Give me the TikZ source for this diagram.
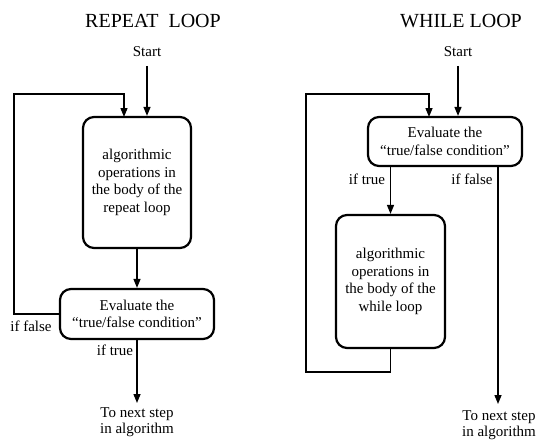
\documentclass[tikz,border=0pt]{standalone}
\usepackage{fontspec}
\setmainfont{Liberation Serif}
\usetikzlibrary{arrows.meta,calc}
\begin{document}
\begin{tikzpicture}[x=1pt,y=-1pt,
  box/.style={draw,line width=2.2pt,rounded corners=11pt,align=center,inner sep=0pt,
    font=\fontsize{15}{17.5}\selectfont},
  lbl/.style={align=center,inner sep=0pt,font=\fontsize{15}{16.5}\selectfont},
  ttl/.style={inner sep=0pt,font=\fontsize{20}{22}\selectfont},
  conn/.style={line width=1.4pt,-{Triangle[length=9pt,width=7pt]}},
  plain/.style={line width=1.4pt}]
\useasboundingbox (0,0) rectangle (538,444);
% ---------- REPEAT LOOP ----------
\node[ttl] (t1) at (153,21) {REPEAT\ \ LOOP};
\node[lbl] (s1) at (147,52) {Start};
\node[box,minimum width=108pt,minimum height=131pt] (body1) at (137,182.5)
  {algorithmic\\operations in\\the body of the\\repeat loop};
\node[box,minimum width=154pt,minimum height=50pt] (eval1) at (137,314)
  {Evaluate the\\``true/false condition''};
\node[lbl] (f1) at (31,326) {if false};
\node[lbl] (tr1) at (115,350) {if true};
\node[lbl] (n1) at (137,422) {To next step\\in algorithm};
\coordinate (c1) at (14,94);
\coordinate (in1) at (124,117);
\draw[conn] (s1.south |- 0,66) -- (s1.south |- body1.north);
\draw[conn] (eval1.west) -| (c1) -| (in1);
\draw[conn] (body1.south) -- (eval1.north);
\draw[conn] (eval1.south) -- (eval1.south |- 0,403);
% ---------- WHILE LOOP ----------
\node[ttl] (t2) at (461,21) {WHILE LOOP};
\node[lbl] (s2) at (458,52) {Start};
\node[box,minimum width=154pt,minimum height=49pt] (eval2) at (445,141.5)
  {Evaluate the\\``true/false condition''};
\node[box,minimum width=109pt,minimum height=133pt] (body2) at (390.5,281.5)
  {algorithmic\\operations in\\the body of the\\while loop};
\node[lbl] (tr2) at (367,179) {if true};
\node[lbl] (f2) at (472,179) {if false};
\node[lbl] (n2) at (499,425) {To next step\\in algorithm};
\coordinate (c2) at (306,94);
\coordinate (b2) at (390.5,372);
\coordinate (in2) at (429,117);
\coordinate (o2) at (498,166);
\coordinate (d2) at (390.5,166);
\draw[conn] (s2.south |- 0,66) -- (s2.south |- eval2.north);
\draw[conn] (body2.south) -- (b2) -| (c2) -| (in2);
\draw[conn] (d2) -- (body2.north);
\draw[conn] (o2) -- (o2 |- 0,404);
\end{tikzpicture}
\end{document}
